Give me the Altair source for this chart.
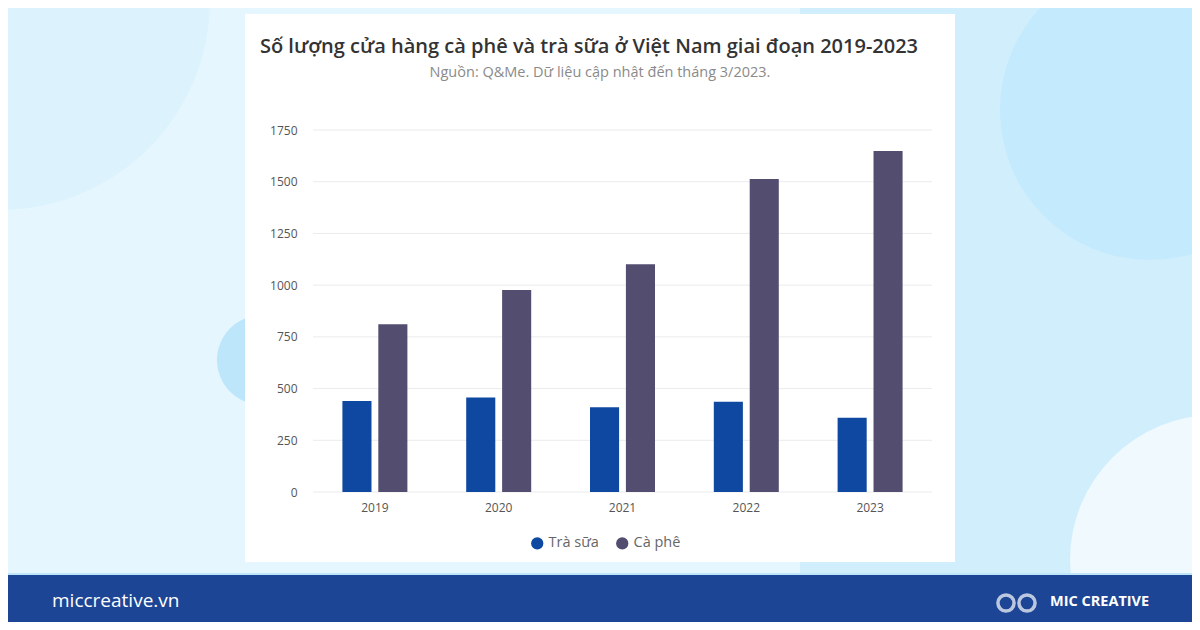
import altair as alt
import pandas as pd

years = ["2019", "2020", "2021", "2022", "2023"]
tra_sua = [440, 457, 410, 436, 359]
ca_phe = [811, 977, 1101, 1513, 1648]
series_names = ["Trà sữa", "Cà phê"]
series_colors = ["#0f48a0", "#534e70"]
y_ticks = [0, 250, 500, 750, 1000, 1250, 1500, 1750]

title_text = "Số lượng cửa hàng cà phê và trà sữa ở Việt Nam giai đoạn 2019-2023"
subtitle_text = "Nguồn: Q&Me. Dữ liệu cập nhật đến tháng 3/2023."
footer_left = "miccreative.vn"
footer_right = "MIC CREATIVE"

rows = []
for i, y in enumerate(years):
    rows.append({"year": y, "series": series_names[0], "value": tra_sua[i]})
    rows.append({"year": y, "series": series_names[1], "value": ca_phe[i]})
df = pd.DataFrame(rows)
grid_df = pd.DataFrame({"value": y_ticks})

FONT = "Open Sans"
one = pd.DataFrame({"a": [0]})

# plot area origin on page is (313, 130); the svg starts at page (8, 8)
OX, OY = 313, 130
PW, PH = 619, 362


def px(x):
    return x - OX


def py(y):
    return y - OY


def rect(x1, y1, x2, y2, color):
    return alt.Chart(one).mark_rect(color=color, clip=False).encode(
        x=alt.value(px(x1)), x2=alt.value(px(x2)), y=alt.value(py(y1)), y2=alt.value(py(y2))
    )


def blob(x, y, diameter, color):
    return alt.Chart(one).mark_point(shape="circle", filled=True, color=color, opacity=1,
                                     size=diameter * diameter, clip=False).encode(
        x=alt.value(px(x)), y=alt.value(py(y))
    )


def text(t, x, y, size, color, weight="normal", align="center", font=FONT):
    return alt.Chart(pd.DataFrame({"t": [t]})).mark_text(
        fontSize=size, color=color, fontWeight=weight, align=align, baseline="middle", font=font
    ).encode(text="t:N", x=alt.value(px(x)), y=alt.value(py(y)))


background = alt.layer(
    rect(0, 0, 1200, 630, "#e6f6fe"),
    blob(0, 0, 420, "#dcf2fd"),
    rect(800, 0, 1200, 630, "#d0eefc"),
    blob(1150, 110, 300, "#c4eafd"),
    blob(1215, 560, 290, "#f0f9fe"),
    blob(262, 360, 90, "#bde6fb"),
    rect(0, 573, 1200, 576, "#bfe5fb"),
)
card = rect(245, 14, 955, 562, "#ffffff")
footer = rect(0, 575, 1200, 630, "#1d4595")

grid = alt.Chart(grid_df).mark_rule(color="#ebebeb", strokeWidth=1).encode(
    y=alt.Y("value:Q"), x=alt.value(0), x2=alt.value(PW)
)

bars = alt.Chart(df).mark_bar().encode(
    x=alt.X("year:N", sort=years,
            scale=alt.Scale(paddingInner=0.475, paddingOuter=0.2375),
            axis=alt.Axis(title=None, labelAngle=0, ticks=False, domain=False, grid=False, zindex=1,
                          labelPadding=10, labelFontSize=12, labelColor="#555555", labelFont=FONT)),
    xOffset=alt.XOffset("series:N", sort=series_names,
                        scale=alt.Scale(paddingInner=0.19, paddingOuter=0)),
    y=alt.Y("value:Q", scale=alt.Scale(domain=[0, 1750], nice=False),
            axis=alt.Axis(title=None, values=y_ticks, format="d", ticks=False, domain=False,
                          grid=False, zindex=1, labelPadding=16,
                          labelFontSize=12, labelColor="#555555", labelFont=FONT)),
    color=alt.Color("series:N", sort=series_names,
                    scale=alt.Scale(domain=series_names, range=series_colors),
                    legend=alt.Legend(title=None, orient="none", direction="horizontal",
                                      legendX=px(530), legendY=py(536),
                                      symbolType="circle", symbolSize=150,
                                      labelFontSize=14.5, labelColor="#666666", labelFont=FONT,
                                      columnPadding=16, symbolOffset=0)),
)

texts = alt.layer(
    text(title_text, 589, 47, 20, "#333333", weight=600),
    text(subtitle_text, 600, 73, 14.5, "#8a8a8a"),
    text(footer_left, 52, 601, 19, "#ffffff", align="left"),
    text(footer_right, 1050, 602, 14.5, "#ffffff", weight="bold", align="left"),
)

logo = alt.layer(
    alt.Chart(one).mark_point(shape="circle", filled=False, color="#ffffff", strokeWidth=3.5,
                              size=260, clip=False).encode(x=alt.value(px(1006)), y=alt.value(py(603))),
    alt.Chart(one).mark_point(shape="circle", filled=False, color="#ffffff", strokeWidth=3.5,
                              size=260, clip=False).encode(x=alt.value(px(1027)), y=alt.value(py(603))),
)

TW, TH = 1184, 614
chart = alt.layer(background, card, footer, grid, bars, texts, logo).properties(
    width=PW, height=PH,
    padding={"left": OX - 8, "top": OY - 8, "right": TW - (OX - 8) - PW, "bottom": TH - (OY - 8) - PH},
    autosize=alt.AutoSizeParams(type="none"),
).configure_view(stroke=None).configure(background="#e6f6fe")

chart.save("out.html", embed_options={"renderer": "svg", "actions": False})
